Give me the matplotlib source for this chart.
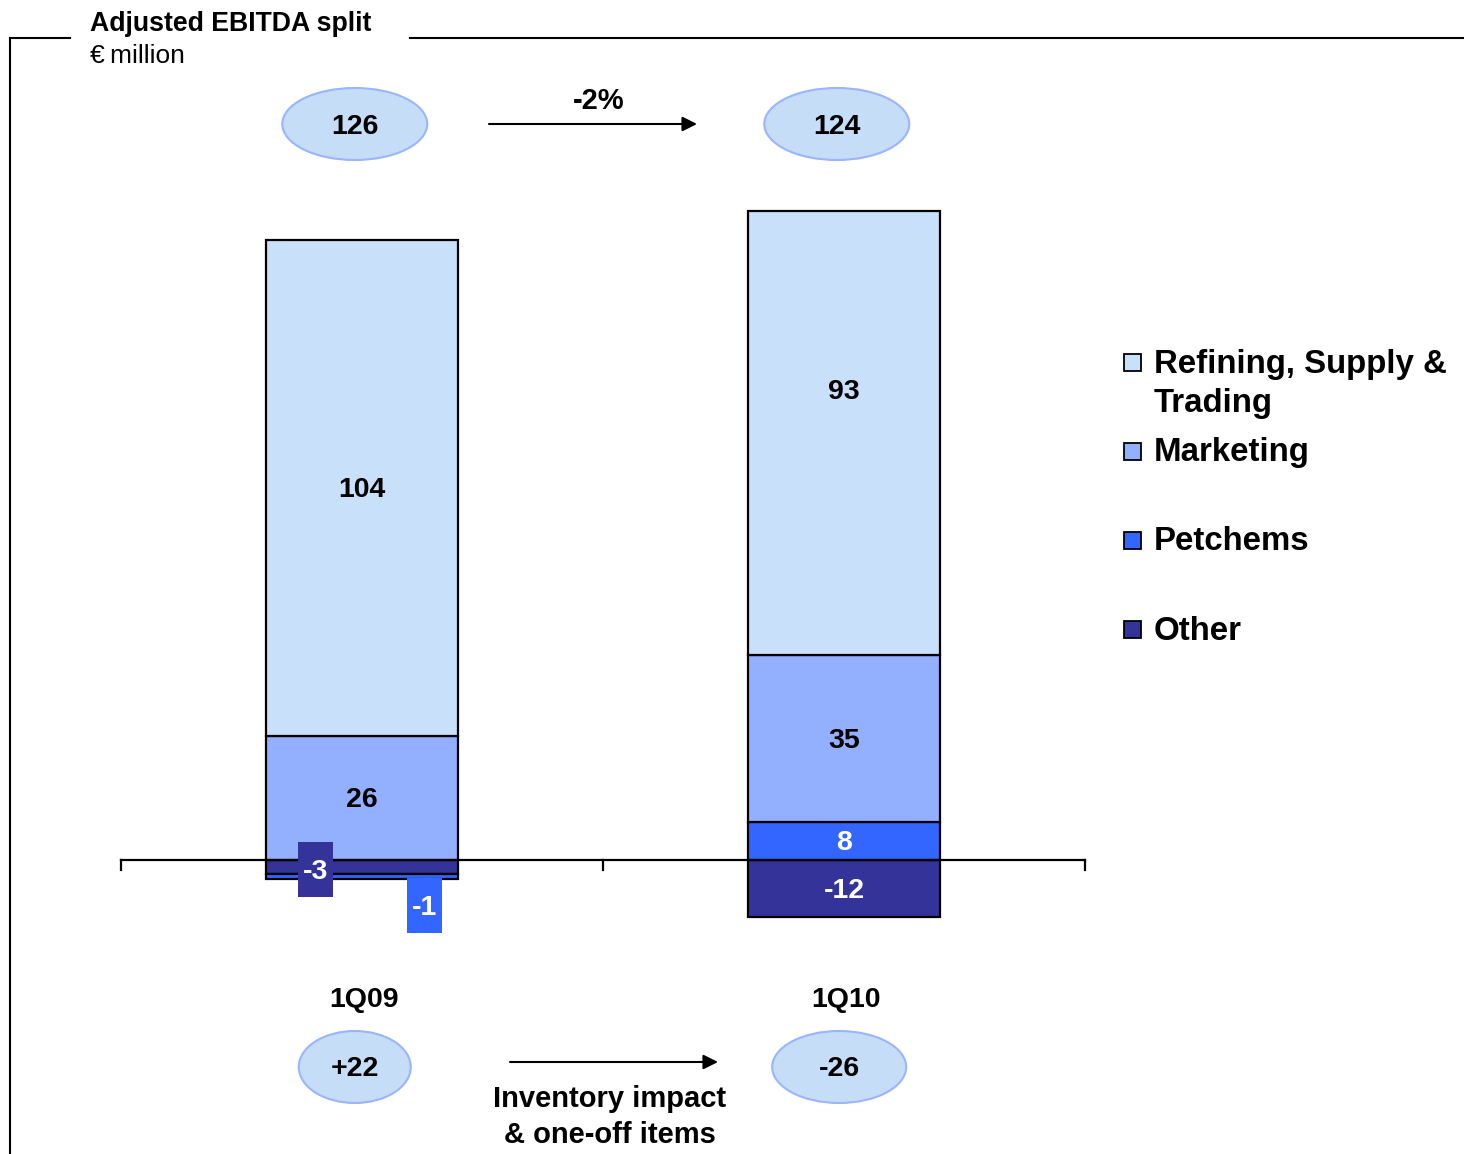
import numpy as np
import matplotlib
matplotlib.use("Agg")
import matplotlib.pyplot as plt
from matplotlib.patches import Ellipse, Rectangle

plt.rcParams['font.family'] = ['Liberation Sans', 'DejaVu Sans']

# ---------------------------------------------------------------------------
# data (EUR million)
# ---------------------------------------------------------------------------
periods = ['1Q09', '1Q10']
segments = ['Other', 'Petchems', 'Marketing', 'Refining, Supply &\nTrading']
refining = [104, 93]
marketing = [26, 35]
petchems = [-1, 8]
other = [-3, -12]
inventory = ['+22', '-26']

colors = ['#333399', '#3366FF', '#93B0FF', '#C8E0FA']
text_colors = ['white', 'white', 'black', 'black']
values = [other, petchems, marketing, refining]

FS = 20.5  # numbers / category labels

# ---------------------------------------------------------------------------
# figure: one axes over the whole canvas; 1 category = 482 px, 1 unit = 4.77 px
# ---------------------------------------------------------------------------
W, H = 1464, 1154
X0, Y0, SX, SY = 121, 860, 482.0, 4.77
fig = plt.figure(figsize=(W / 100, H / 100), dpi=100)
ax = fig.add_axes([0, 0, 1, 1])
ax.set_xlim(-X0 / SX, (W - X0) / SX)
ax.set_ylim(-(H - Y0) / SY, Y0 / SY)
ax.axis('off')

DY = 2.5 / SY  # text sits a touch lower than the bbox centre


def px(x, y):
    """pixel position -> data position"""
    return (x - X0) / SX, (Y0 - y) / SY


xs = np.arange(len(periods)) + 0.5
bar_w = 192 / SX

# stacked bars: positives stack upward, negatives downward
pos = np.zeros(len(periods))
neg = np.zeros(len(periods))
label_nudge = {(3, 1): 9.2}
box_offsets = {(0, 0): (-0.0965, -2.0), (1, 0): (0.13, -9.5)}
for k, vals in enumerate(values):
    vals = np.array(vals, dtype=float)
    bottoms = np.where(vals >= 0, pos, neg)
    ax.bar(xs, vals, bottom=bottoms, width=bar_w, color=colors[k],
           edgecolor='black', linewidth=1.6, zorder=3)
    for i, v in enumerate(vals):
        if (k, i) in box_offsets:
            # small segments: label in a coloured tag next to the bar
            dx, yy = box_offsets[(k, i)]
            ax.add_patch(Rectangle((xs[i] + dx - 17.5 / SX, yy - 27.5 / SY),
                                   35 / SX, 55 / SY, facecolor=colors[k],
                                   edgecolor='none', zorder=6))
            ax.text(xs[i] + dx, yy - DY, f'{int(v)}', ha='center', va='center',
                    fontsize=FS, fontweight='bold', color='white', zorder=7)
        else:
            yc = bottoms[i] + v / 2 + label_nudge.get((k, i), 0) - DY
            ax.text(xs[i], yc, f'{int(v)}', ha='center', va='center',
                    fontsize=FS, fontweight='bold', color=text_colors[k], zorder=5)
    pos = np.where(vals >= 0, pos + vals, pos)
    neg = np.where(vals < 0, neg + vals, neg)

# category axis line with downward ticks
ax.plot([0, len(periods)], [0, 0], color='black', lw=1.6, zorder=4)
for t in range(len(periods) + 1):
    ax.plot([t, t], [0, -10 / SY], color='black', lw=1.6, zorder=4)

for i, p in enumerate(periods):
    ax.text(xs[i] + 0.005, px(0, 1000)[1], p, ha='center', va='center',
            fontsize=FS, fontweight='bold')

# totals in ellipses + growth arrow
totals = np.sum(values, axis=0)
ell_fc, ell_ec = '#C6DDF8', '#99B5FF'
y_top = px(0, 124)[1]
for i, t in enumerate(totals):
    ax.add_patch(Ellipse((xs[i] - 0.015, y_top), 145 / SX, 72 / SY,
                         facecolor=ell_fc, edgecolor=ell_ec, lw=1.5, zorder=3))
    ax.text(xs[i] - 0.015, y_top - DY, f'{int(t)}', ha='center', va='center',
            fontsize=FS, fontweight='bold', zorder=4)
growth = (totals[1] - totals[0]) / totals[0] * 100
ax.annotate('', xy=px(697, 124), xytext=px(489, 124),
            arrowprops=dict(arrowstyle='-|>', color='black', lw=1.5,
                            mutation_scale=22, shrinkA=0, shrinkB=0))
ax.text(*px(599, 101), f'{growth:.0f}%', ha='center', va='center',
        fontsize=21, fontweight='bold')

# inventory impact ellipses + arrow
y_bot = px(0, 1067)[1]
inv_w = [112, 134]
inv_dx = [-0.015, -0.01]
for i, s in enumerate(inventory):
    ax.add_patch(Ellipse((xs[i] + inv_dx[i], y_bot), inv_w[i] / SX, 72 / SY,
                         facecolor=ell_fc, edgecolor=ell_ec, lw=1.5, zorder=3))
    ax.text(xs[i] + inv_dx[i], y_bot - DY, s, ha='center', va='center',
            fontsize=FS, fontweight='bold', zorder=4)
ax.annotate('', xy=px(718, 1062), xytext=px(510, 1062),
            arrowprops=dict(arrowstyle='-|>', color='black', lw=1.5,
                            mutation_scale=22, shrinkA=0, shrinkB=0))
ax.text(*px(610, 1117), 'Inventory impact\n& one-off items', ha='center',
        va='center', fontsize=21, fontweight='bold', linespacing=1.32)

# legend (top to bottom: Refining, Marketing, Petchems, Other)
leg_rows = [362, 451, 540, 629]
for r, k in enumerate([3, 2, 1, 0]):
    x0, yc = px(1124, leg_rows[r])
    ax.add_patch(Rectangle((x0, yc - 8.5 / SY), 17 / SX, 17 / SY,
                           facecolor=colors[k], edgecolor='black', lw=1.3,
                           clip_on=False))
    ty = leg_rows[r] + (22 if '\n' in segments[k] else 2)
    ax.text(px(1154, 0)[0], px(0, ty)[1], segments[k], ha='left', va='center',
            fontsize=23.8, fontweight='bold', linespacing=1.36)

# frame and title
for (xa, ya), (xb, yb) in [((10, 38), (70, 38)), ((410, 38), (1464, 38)),
                           ((10, 38), (10, 1154))]:
    (a0, b0), (a1, b1) = px(xa, ya), px(xb, yb)
    ax.plot([a0, a1], [b0, b1], color='black', lw=1.5, clip_on=False)
ax.text(*px(90, 24), 'Adjusted EBITDA split', ha='left', va='center',
        fontsize=19.2, fontweight='bold')
ax.text(*px(90, 56), '€\u2009million', ha='left', va='center', fontsize=19)

fig.savefig('out.png', dpi=100, facecolor='white')
